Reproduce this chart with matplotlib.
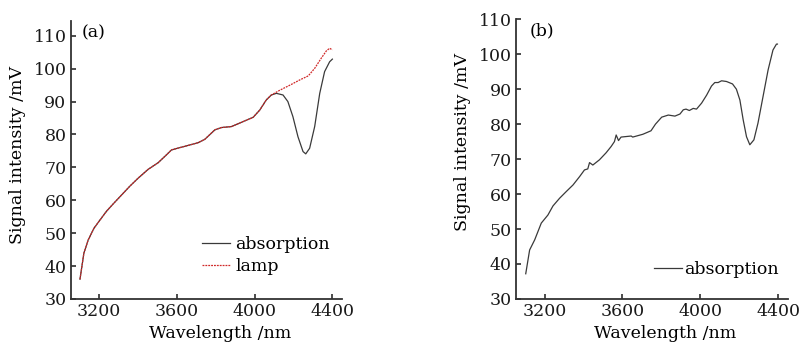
import numpy as np
import matplotlib.pyplot as plt

plt.rcParams['font.family'] = ['DejaVu Serif']

# (a) absorption and lamp spectra (shared part below 4080 nm)
wl_common = [3101, 3121, 3143, 3173, 3204, 3238, 3272, 3315, 3358, 3400, 3452,
             3503, 3546, 3572, 3615, 3666, 3709, 3743, 3770, 3795, 3829, 3881,
             3940, 3992, 4026, 4060, 4086]
sig_common = [36.0, 43.9, 47.9, 51.5, 54.0, 56.7, 58.9, 61.6, 64.3, 66.7, 69.4,
              71.4, 73.8, 75.3, 76.0, 76.8, 77.5, 78.5, 80.0, 81.4, 82.1, 82.4,
              83.9, 85.2, 87.4, 90.5, 92.0]
wl_abs_tail = [4112, 4146, 4171, 4197, 4223, 4249, 4263, 4283, 4309, 4335, 4360,
               4386, 4400]
abs_tail = [92.5, 92.0, 90.0, 85.4, 79.3, 74.8, 74.1, 75.8, 82.4, 92.5, 99.1,
            102.1, 102.9]
wl_lamp_tail = [4131, 4182, 4233, 4276, 4309, 4343, 4369, 4386, 4400]
lamp_tail = [93.5, 95.0, 96.6, 97.8, 100.1, 103.2, 105.4, 106.2, 105.7]

wl_a = wl_common + wl_abs_tail
abs_a = sig_common + abs_tail
wl_lamp = wl_common + wl_lamp_tail
lamp = sig_common + lamp_tail

# (b) absorption spectrum
wl_b = [3103, 3123, 3149, 3183, 3217, 3243, 3277, 3311, 3346, 3380, 3405, 3422,
        3431, 3448, 3482, 3516, 3542, 3559, 3568, 3580, 3593, 3645, 3653, 3705,
        3747, 3770, 3802, 3836, 3870, 3896, 3913, 3927, 3944, 3964, 3981, 4007,
        4033, 4058, 4075, 4092, 4110, 4135, 4166, 4186, 4204, 4221, 4238, 4255,
        4276, 4297, 4323, 4349, 4374, 4392, 4397]
abs_b = [37.2, 44.0, 46.9, 51.7, 54.0, 56.6, 58.8, 60.7, 62.6, 65.0, 66.9, 67.2,
         69.0, 68.3, 69.8, 71.8, 73.6, 75.0, 76.9, 75.3, 76.3, 76.6, 76.3, 77.1,
         78.1, 80.0, 82.0, 82.6, 82.3, 82.9, 84.1, 84.3, 83.9, 84.5, 84.3, 86.0,
         88.3, 90.9, 91.9, 91.9, 92.4, 92.2, 91.5, 90.0, 86.9, 81.2, 76.4, 74.1,
         75.5, 80.3, 87.9, 95.5, 101.2, 102.9, 102.9]

line_col = '#3a3a3a'
lamp_col = '#d02828'
fs = 12.5

fig = plt.figure(figsize=(8.03, 3.44), dpi=100)
ax1 = fig.add_axes([0.088, 0.131, 0.338, 0.809])
ax2 = fig.add_axes([0.6426, 0.131, 0.3384, 0.813])

ax1.plot(wl_a, abs_a, color=line_col, lw=0.9, label='absorption')
ax1.plot(wl_lamp, lamp, color=lamp_col, lw=0.9, ls=(0, (1.5, 0.8)), label='lamp')
ax1.set_ylim(30, 114.6)
ax1.text(0.04, 0.957, '(a)', transform=ax1.transAxes, fontsize=fs,
         va='center', ha='left')
ax1.legend(loc='center left', bbox_to_anchor=(0.484, 0.155), frameon=False,
           fontsize=fs, handlelength=1.6, handletextpad=0.3,
           labelspacing=0.3, borderpad=0, borderaxespad=0)

ax2.plot(wl_b, abs_b, color=line_col, lw=0.9, label='absorption')
ax2.set_ylim(30, 110)
ax2.text(0.05, 0.96, '(b)', transform=ax2.transAxes, fontsize=fs,
         va='center', ha='left')
ax2.legend(loc='center left', bbox_to_anchor=(0.508, 0.106), frameon=False,
           fontsize=fs, handlelength=1.6, handletextpad=0.15,
           borderpad=0, borderaxespad=0)

for ax, ylab_y in ((ax1, 0.517), (ax2, 0.562)):
    ax.set_xlim(3053, 4450)
    ax.set_xticks([3200, 3600, 4000, 4400])
    ax.set_yticks(np.arange(30, 111, 10))
    for s in ('top', 'right'):
        ax.spines[s].set_visible(False)
    for s in ('left', 'bottom'):
        ax.spines[s].set_linewidth(1.3)
        ax.spines[s].set_color('#333333')
    ax.tick_params(direction='in', length=3.5, width=1.1, labelsize=fs,
                   colors='#1a1a1a', pad=3)
    ax.set_xlabel('Wavelength /nm', fontsize=fs)
    ax.set_ylabel('Signal intensity /mV', fontsize=fs)
    ax.xaxis.set_label_coords(0.55, -0.092)
    ax.yaxis.set_label_coords(-0.165, ylab_y)

fig.savefig('out.png', dpi=100)
